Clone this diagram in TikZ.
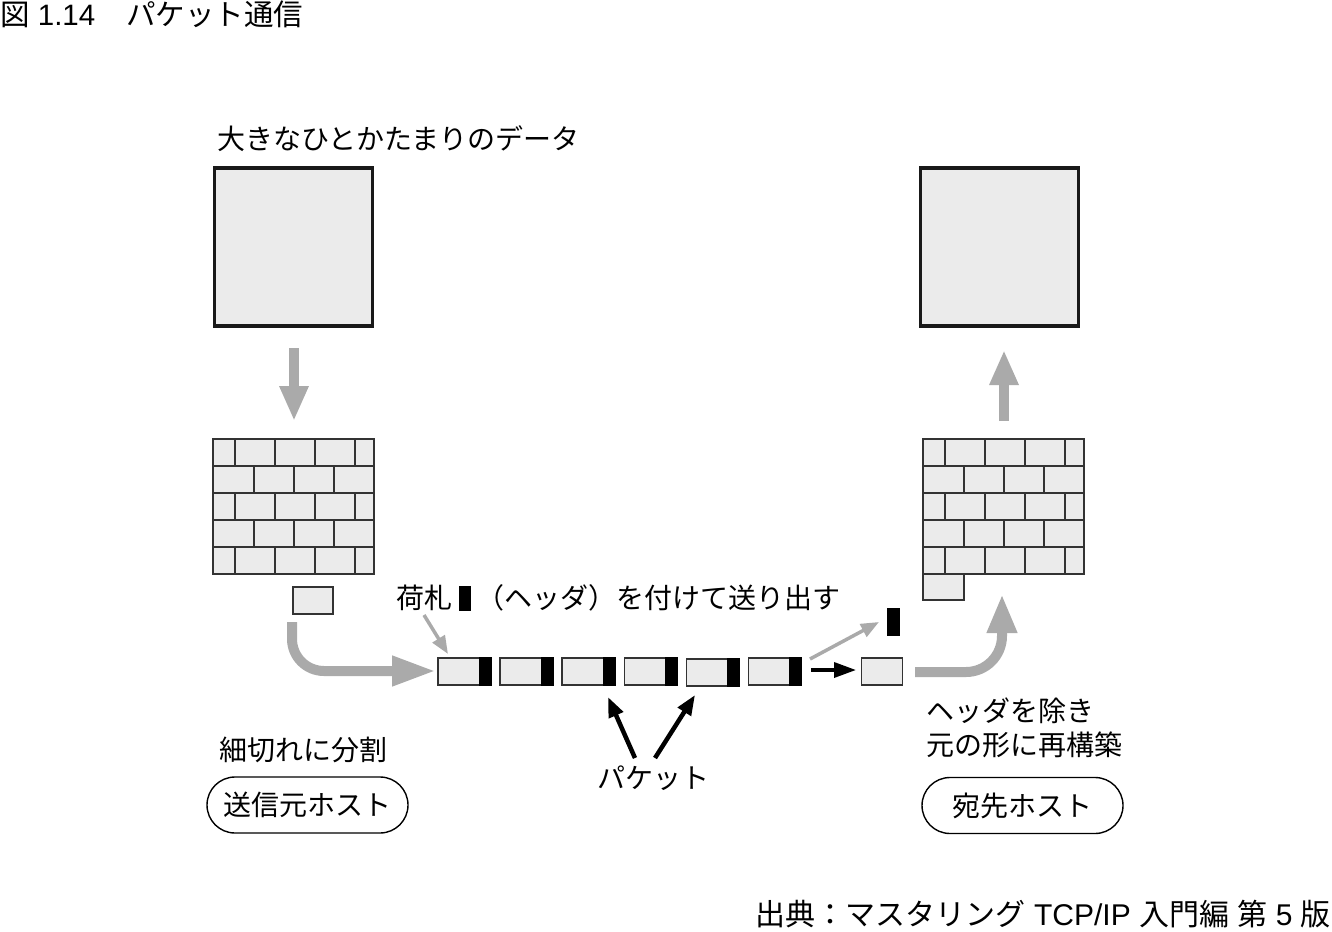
\documentclass[tikz,border=0pt]{standalone}
\usepackage{fontspec}
\setmainfont{Noto Sans CJK JP}
\newfontfamily\lat{Liberation Sans}
\usetikzlibrary{arrows.meta}
\definecolor{boxfill}{HTML}{EBEBEB}
\definecolor{arrgray}{HTML}{AAAAAA}
\definecolor{linedark}{HTML}{333333}
\newcommand{\mybrickwall}[3]{%
  \begin{scope}[shift={(#1,#2)}]
    \fill[boxfill] (0,0) rectangle (161,135);
    \foreach \r in {1,2,3,4} \draw[brickline] (0,\r*27) -- (161,\r*27);
    \foreach \r in {0,2,4} \foreach \c in {22,62,102,142} \draw[brickline] (\c,\r*27) -- (\c,\r*27+27);
    \foreach \r in {1,3} \foreach \c in {41,81,121} \draw[brickline] (\c,\r*27) -- (\c,\r*27+27);
    \draw[brickline] (0,0) rectangle (161,135);
    \coordinate (#3) at (80.5,67.5);
  \end{scope}}
\begin{document}
\begin{tikzpicture}[x=1pt,y=-1pt,
  txt/.style={inner sep=0pt, anchor=west, font=\fontsize{28}{32}\selectfont},
  bigsq/.style={draw=black!90, line width=3.5pt, fill=boxfill, minimum size=158pt, inner sep=0pt},
  pkt/.style={draw=linedark, line width=1.5pt, fill=boxfill, minimum width=53pt, minimum height=27pt, inner sep=0pt},
  hdrbox/.style={fill=black, inner sep=0pt, minimum width=13pt, minimum height=27pt},
  brickline/.style={draw=linedark, line width=1.6pt},
  fatarrow/.style={draw=arrgray, line width=10pt, -{Triangle[length=35pt,width=27pt]}},
  thinarrow/.style={draw=arrgray, line width=3.5pt, -{Triangle[length=18pt,width=14pt]}},
  blkarrow/.style={draw=black, line width=4.5pt, -{Triangle[length=20pt,width=15pt]}},
  hostbox/.style={draw=black, line width=1.4pt, rounded corners=28pt, minimum width=201pt, minimum height=56pt, inner sep=0pt, font=\fontsize{28}{32}\selectfont}
]
\useasboundingbox (0,0) rectangle (1332,931);

% texts
\node[txt, font=\fontsize{29.5}{33}\selectfont] (title) at (0,14) {図{\lat\ 1.14}\hspace{31pt}パケット通信};
\node[txt] (biglabel) at (217,139) {大きなひとかたまりのデータ};

% big squares
\node[bigsq] (lsq) at (293.5,247) {};
\node[bigsq] (rsq) at (999.5,247) {};

% brick walls
\mybrickwall{213}{439}{lwall}
\mybrickwall{923}{439}{rwall}
\draw[brickline, fill=boxfill] (923,574) rectangle (964,600);

% small piece under left wall
\node[pkt, minimum width=40pt] (piece) at (313,600.5) {};

% vertical fat arrows
\coordinate (d1) at (294,348);
\coordinate (d2) at (294,421);
\draw[fatarrow] (d1) -- (d2);
\coordinate (u1) at (1004,421);
\coordinate (u2) at (1004,350);
\draw[fatarrow] (u1) -- (u2);

% packets
\foreach \i/\x/\y in {1/464.5/671.5, 2/526.6/671.5, 3/588.7/671.5, 4/650.8/671.5, 5/712.9/672.5, 6/775.0/671.5}{
  \node[pkt] (p\i) at (\x,\y) {};
  \fill[black] ([xshift=-13pt]p\i.north east) rectangle (p\i.south east);
}
\node[pkt, minimum width=40.6pt] (pend) at (882,671.5) {};
\node[hdrbox, minimum height=28pt] (hout) at (893.5,622) {};

% label with header
\node[txt] (lab1) at (396,598) {荷札};
\node[hdrbox, minimum width=12pt, minimum height=25pt] (hlab) at (465,598.5) {};
\node[txt] (lab2) at (476,598) {（ヘッダ）を付けて送り出す};

% left curved arrow
\coordinate (c1) at (292,622);
\coordinate (c2) at (436,671);
\draw[fatarrow, -{Triangle[length=44pt,width=28pt]}, rounded corners=32pt] (c1) |- (c2);

% right curved arrow
\coordinate (r1) at (915,672);
\coordinate (r2) at (1002,594);
\draw[fatarrow, -{Triangle[length=39pt,width=28pt]}, rounded corners=36pt] (r1) -| (r2);

% thin arrows
\coordinate (t1) at (424,615);
\coordinate (t2) at (448,654);
\draw[thinarrow] (t1) -- (t2);
\coordinate (g1) at (810,659);
\coordinate (g2) at (879,622);
\draw[thinarrow] (g1) -- (g2);
\coordinate (b1) at (811,670);
\coordinate (b2) at (856,670);
\draw[blkarrow, line width=3.5pt, -{Triangle[length=22pt,width=15pt]}] (b1) -- (b2);

% packet label arrows
\node[txt] (pktlab) at (597,778) {パケット};
\coordinate (k1) at (635,758);
\coordinate (k2) at (608,697);
\coordinate (k3) at (655,758);
\coordinate (k4) at (695,695);
\draw[blkarrow] (k1) -- (k2);
\draw[blkarrow] (k3) -- (k4);

% left labels
\node[txt] (split) at (219,750) {細切れに分割};
\node[hostbox] (src) at (307.5,805) {送信元ホスト};

% right labels
\node[txt] (rl1) at (926,711) {ヘッダを除き};
\node[txt] (rl2) at (926,745) {元の形に再構築};
\node[hostbox] (dst) at (1022.5,805.5) {宛先ホスト};

% source
\node[txt, anchor=east, font=\fontsize{30}{34}\selectfont] (srcnote) at (1331,914) {出典：マスタリング{\lat\ TCP/IP\ }入門編{\lat\ }第{\lat\ 5\ }版};
\end{tikzpicture}
\end{document}
